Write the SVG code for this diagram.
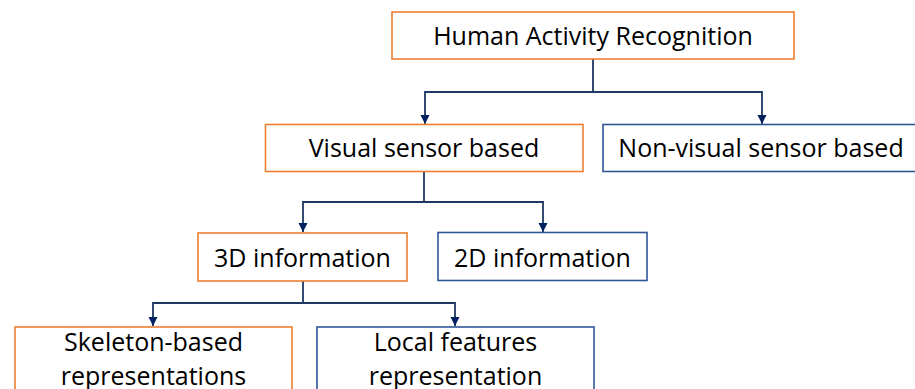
<svg xmlns="http://www.w3.org/2000/svg" width="915" height="389" viewBox="0 0 915 389">
  <style>
    .box { fill: #ffffff; stroke-width: 1.6; }
    .org { stroke: #ED7D31; }
    .blu { stroke: #2F5597; }
    .lbl { font-family: "Open Sans", "Noto Sans", sans-serif; font-size: 25px; fill: #000000; text-anchor: middle; }
    .con { fill: none; stroke: #1F3864; stroke-width: 1.8; marker-end: url(#arr); }
  </style>
  <defs>
    <marker id="arr" markerUnits="userSpaceOnUse" markerWidth="10" markerHeight="10" refX="9" refY="5" orient="auto">
      <path d="M0,0.5 L9,5 L0,9.5 z" fill="#002060"/>
    </marker>
  </defs>
  <rect width="915" height="389" fill="#ffffff"/>
  <g id="connectors">
    <path class="con" d="M593,59 V92 H425 V124"/>
    <path class="con" d="M593,92 H762 V124"/>
    <path class="con" d="M424,171 V202 H303 V232"/>
    <path class="con" d="M424,202 H543 V232"/>
    <path class="con" d="M303,281 V303 H153 V326"/>
    <path class="con" d="M303,303 H455 V326"/>
  </g>
  <g id="har">
    <rect class="box org" x="392" y="12" width="402" height="47"/>
    <text class="lbl" x="593" y="44.5">Human Activity Recognition</text>
  </g>
  <g id="visual">
    <rect class="box org" x="265.5" y="124.5" width="317.5" height="47"/>
    <text class="lbl" x="424" y="157">Visual sensor based</text>
  </g>
  <g id="nonvisual">
    <rect class="box blu" x="603" y="124.5" width="316" height="47"/>
    <text class="lbl" x="761" y="157">Non-visual sensor based</text>
  </g>
  <g id="info3d">
    <rect class="box org" x="198" y="233" width="209" height="48"/>
    <text class="lbl" x="302.5" y="266.5">3D information</text>
  </g>
  <g id="info2d">
    <rect class="box blu" x="438" y="232.5" width="209" height="48"/>
    <text class="lbl" x="542.5" y="266.5">2D information</text>
  </g>
  <g id="skeleton">
    <rect class="box org" x="15" y="327" width="277" height="80"/>
    <text class="lbl" x="153.5" y="351">Skeleton-based</text>
    <text class="lbl" x="153.5" y="385">representations</text>
  </g>
  <g id="local">
    <rect class="box blu" x="317" y="327" width="277" height="80"/>
    <text class="lbl" x="455.5" y="351">Local features</text>
    <text class="lbl" x="455.5" y="385">representation</text>
  </g>
</svg>
